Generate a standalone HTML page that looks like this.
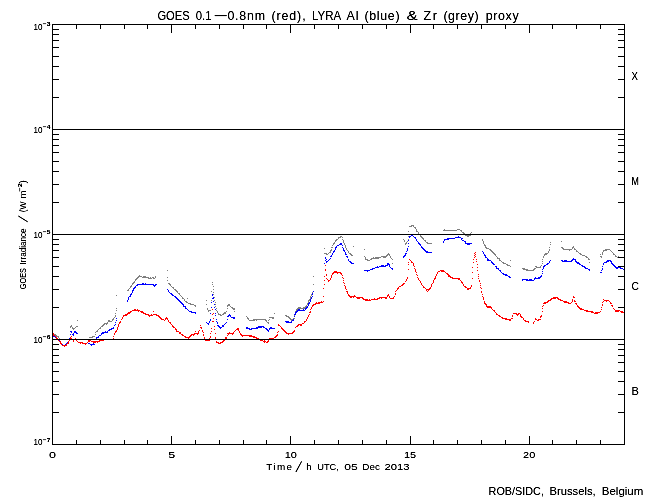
<!DOCTYPE html>
<html><head><meta charset="utf-8"><title>GOES / LYRA proxy</title>
<style>html,body{margin:0;padding:0;background:#fff;width:650px;height:500px;overflow:hidden}svg{display:block}text{font-family:"Liberation Sans",sans-serif}</style></head>
<body>
<svg width="650" height="500" viewBox="0 0 650 500">
<rect width="650" height="500" fill="#fff"/>
<g fill="none" stroke-width="1" shape-rendering="crispEdges">
<path stroke="#7f7f7f" d="M411 225.5h3M409 226.5h3M413 226.5h1M414 227.5h2M415 228.5h1M416 229.5h1M444 229.5h1M457 229.5h3M416 230.5h1M443 230.5h14M460 230.5h2M408 231.5h1M416 231.5h2M461 231.5h1M418 232.5h1M462 232.5h2M471 232.5h1M418 233.5h1M463 233.5h2M470 233.5h1M419 234.5h1M464 234.5h3M470 234.5h1M420 235.5h1M465 235.5h6M340 236.5h2M408 236.5h1M420 236.5h2M467 236.5h2M338 237.5h3M342 237.5h1M421 237.5h2M338 238.5h1M422 238.5h2M336 239.5h2M342 239.5h1M403 239.5h1M408 239.5h1M423 239.5h1M482 239.5h1M335 240.5h2M343 240.5h1M404 240.5h1M424 240.5h2M482 240.5h1M335 241.5h1M343 241.5h1M404 241.5h1M407 241.5h1M425 241.5h1M483 241.5h1M561 241.5h1M334 242.5h1M343 242.5h1M406 242.5h1M426 242.5h2M483 242.5h1M550 242.5h1M333 243.5h2M344 243.5h1M405 243.5h2M427 243.5h5M483 243.5h1M333 244.5h1M344 244.5h1M405 244.5h1M484 244.5h1M550 244.5h1M332 245.5h1M345 245.5h1M484 245.5h2M345 246.5h1M353 246.5h1M485 246.5h1M573 246.5h1M331 247.5h2M345 247.5h1M485 247.5h2M549 247.5h1M561 247.5h2M572 247.5h2M324 248.5h1M346 248.5h1M486 248.5h3M562 248.5h2M572 248.5h1M574 248.5h1M331 249.5h1M346 249.5h1M364 249.5h1M489 249.5h2M549 249.5h1M563 249.5h9M574 249.5h2M605 249.5h5M330 250.5h2M347 250.5h1M490 250.5h2M549 250.5h1M569 250.5h1M576 250.5h1M603 250.5h4M610 250.5h1M330 251.5h1M348 251.5h1M491 251.5h2M548 251.5h1M576 251.5h2M603 251.5h1M611 251.5h1M329 252.5h2M348 252.5h1M492 252.5h2M548 252.5h1M578 252.5h1M602 252.5h1M612 252.5h1M324 253.5h3M328 253.5h1M349 253.5h2M388 253.5h1M493 253.5h2M545 253.5h3M579 253.5h2M602 253.5h1M613 253.5h1M326 254.5h2M350 254.5h2M387 254.5h3M494 254.5h2M544 254.5h3M580 254.5h2M600 254.5h1M602 254.5h1M613 254.5h2M351 255.5h2M386 255.5h2M389 255.5h1M495 255.5h1M544 255.5h1M582 255.5h3M615 255.5h1M364 256.5h1M381 256.5h6M390 256.5h1M496 256.5h1M543 256.5h1M585 256.5h2M600 256.5h2M615 256.5h2M618 256.5h1M365 257.5h1M373 257.5h1M375 257.5h6M383 257.5h3M390 257.5h1M497 257.5h1M543 257.5h1M586 257.5h2M601 257.5h1M617 257.5h8M365 258.5h1M371 258.5h8M391 258.5h1M497 258.5h3M588 258.5h1M365 259.5h3M370 259.5h2M392 259.5h1M499 259.5h1M542 259.5h1M588 259.5h2M367 260.5h3M499 260.5h2M510 260.5h1M501 261.5h1M542 261.5h1M502 262.5h2M589 262.5h1M392 263.5h1M503 263.5h3M542 263.5h1M506 264.5h2M507 265.5h3M541 265.5h1M510 266.5h1M535 266.5h2M540 266.5h1M536 267.5h5M522 268.5h3M534 268.5h2M523 269.5h5M533 269.5h2M167 270.5h1M526 270.5h8M139 275.5h1M138 276.5h4M143 276.5h3M155 276.5h1M313 276.5h1M137 277.5h2M142 277.5h7M150 277.5h1M152 277.5h2M155 277.5h1M167 277.5h1M136 278.5h2M148 278.5h4M153 278.5h2M135 279.5h2M135 280.5h1M167 280.5h1M134 281.5h1M133 282.5h2M212 282.5h1M132 283.5h2M168 283.5h2M132 284.5h1M169 284.5h2M212 284.5h1M313 284.5h1M131 285.5h1M170 285.5h1M130 286.5h2M171 286.5h1M213 286.5h1M130 287.5h1M172 287.5h2M129 288.5h1M173 288.5h1M128 289.5h1M174 289.5h2M213 289.5h1M127 290.5h2M175 290.5h2M176 291.5h2M211 291.5h1M313 291.5h1M177 292.5h1M213 292.5h1M312 292.5h1M178 293.5h2M312 293.5h1M179 294.5h1M213 294.5h1M311 294.5h2M116 295.5h1M180 295.5h1M311 295.5h1M181 296.5h1M310 296.5h1M182 297.5h1M214 297.5h1M310 297.5h1M182 298.5h2M187 298.5h1M310 298.5h1M184 299.5h1M309 299.5h1M184 300.5h1M206 300.5h1M211 300.5h1M214 300.5h1M308 300.5h2M185 301.5h2M308 301.5h1M186 302.5h2M215 302.5h1M308 302.5h1M188 303.5h3M307 303.5h1M190 304.5h4M206 304.5h1M215 304.5h1M228 304.5h2M307 304.5h1M194 305.5h2M227 305.5h3M306 305.5h1M195 306.5h1M215 306.5h1M227 306.5h1M230 306.5h1M305 306.5h2M231 307.5h2M298 307.5h3M303 307.5h3M116 308.5h1M207 308.5h1M216 308.5h1M227 308.5h1M232 308.5h3M297 308.5h8M207 309.5h1M233 309.5h2M296 309.5h2M116 310.5h1M208 310.5h3M216 310.5h1M296 310.5h1M208 311.5h1M217 311.5h1M226 311.5h1M234 311.5h1M295 311.5h2M217 312.5h1M224 312.5h2M295 312.5h1M115 313.5h1M218 313.5h1M223 313.5h3M274 313.5h1M218 314.5h3M222 314.5h2M115 315.5h1M220 315.5h2M285 315.5h2M294 315.5h1M115 316.5h1M246 316.5h1M286 316.5h3M114 317.5h1M247 317.5h1M269 317.5h5M288 317.5h2M113 318.5h1M247 318.5h2M272 318.5h2M289 318.5h2M293 318.5h2M112 319.5h2M248 319.5h1M253 319.5h13M269 319.5h1M290 319.5h4M77 320.5h1M108 320.5h2M112 320.5h1M249 320.5h6M256 320.5h1M265 320.5h2M268 320.5h1M291 320.5h1M108 321.5h4M266 321.5h1M107 322.5h1M267 322.5h2M104 323.5h4M268 323.5h1M103 324.5h2M106 324.5h1M71 325.5h1M102 325.5h2M70 326.5h2M76 326.5h2M101 326.5h2M70 327.5h1M72 327.5h1M75 327.5h1M100 327.5h1M72 328.5h3M99 328.5h2M73 329.5h1M98 329.5h1M97 330.5h1M96 331.5h2M95 332.5h1M52 333.5h2M53 334.5h3M95 334.5h1M55 335.5h2M56 336.5h3M92 336.5h3M58 337.5h1M89 337.5h4M59 338.5h1"/>
<path stroke="#0000ff" d="M411 235.5h2M409 236.5h2M413 236.5h1M458 236.5h1M409 237.5h1M414 237.5h2M455 237.5h6M415 238.5h1M447 238.5h8M461 238.5h2M416 239.5h1M444 239.5h5M461 239.5h1M408 240.5h1M416 240.5h1M444 240.5h1M462 240.5h2M417 241.5h1M443 241.5h1M464 241.5h2M418 242.5h1M443 242.5h1M465 242.5h1M340 243.5h2M408 243.5h1M418 243.5h2M465 243.5h7M339 244.5h3M419 244.5h2M467 244.5h3M337 245.5h2M342 245.5h1M420 245.5h1M336 246.5h1M408 246.5h1M421 246.5h1M335 247.5h2M342 247.5h1M421 247.5h2M335 248.5h1M343 248.5h1M407 248.5h1M422 248.5h2M335 249.5h1M343 249.5h1M407 249.5h1M423 249.5h2M334 250.5h1M343 250.5h2M407 250.5h1M424 250.5h2M333 251.5h2M344 251.5h1M406 251.5h1M425 251.5h3M482 251.5h1M333 252.5h1M345 252.5h1M426 252.5h6M483 252.5h1M332 253.5h1M345 253.5h1M405 253.5h2M483 253.5h1M332 254.5h1M345 254.5h2M405 254.5h1M484 254.5h1M331 255.5h1M404 255.5h2M484 255.5h2M330 256.5h2M346 256.5h2M403 256.5h2M485 256.5h1M325 257.5h1M347 257.5h1M403 257.5h1M485 257.5h2M325 258.5h1M330 258.5h1M487 258.5h1M573 258.5h1M326 259.5h1M329 259.5h1M348 259.5h1M487 259.5h2M572 259.5h4M325 260.5h1M328 260.5h1M348 260.5h1M487 260.5h4M550 260.5h1M561 260.5h2M564 260.5h3M571 260.5h2M575 260.5h1M607 260.5h4M326 261.5h2M349 261.5h2M491 261.5h1M549 261.5h1M562 261.5h10M575 261.5h2M606 261.5h3M610 261.5h2M326 262.5h1M350 262.5h2M491 262.5h2M549 262.5h1M576 262.5h3M604 262.5h3M611 262.5h1M324 263.5h1M351 263.5h3M387 263.5h2M492 263.5h2M547 263.5h2M577 263.5h3M603 263.5h1M611 263.5h2M387 264.5h3M493 264.5h2M546 264.5h2M579 264.5h2M603 264.5h1M612 264.5h2M381 265.5h3M385 265.5h3M389 265.5h1M544 265.5h2M581 265.5h2M613 265.5h2M377 266.5h1M379 266.5h7M389 266.5h1M495 266.5h2M543 266.5h2M582 266.5h3M602 266.5h1M614 266.5h2M375 267.5h4M390 267.5h1M496 267.5h1M543 267.5h1M584 267.5h2M615 267.5h6M372 268.5h3M391 268.5h2M496 268.5h3M543 268.5h1M585 268.5h3M602 268.5h1M616 268.5h2M620 268.5h3M370 269.5h3M392 269.5h1M498 269.5h1M542 269.5h1M588 269.5h2M602 269.5h1M623 269.5h2M364 270.5h6M499 270.5h2M589 270.5h1M601 270.5h1M367 271.5h1M500 271.5h1M542 271.5h1M501 272.5h1M600 272.5h2M502 273.5h2M542 273.5h1M503 274.5h4M505 275.5h3M541 275.5h1M508 276.5h2M540 276.5h2M509 277.5h2M535 277.5h1M538 277.5h3M534 278.5h6M522 279.5h6M529 279.5h3M534 279.5h1M522 280.5h1M526 280.5h8M142 283.5h2M145 283.5h1M137 284.5h17M155 284.5h2M136 285.5h2M153 285.5h3M135 286.5h1M154 286.5h1M134 287.5h2M133 288.5h2M133 289.5h1M167 289.5h1M132 290.5h2M168 290.5h1M132 291.5h1M168 291.5h1M313 291.5h1M132 292.5h1M169 292.5h1M131 293.5h1M170 293.5h2M312 293.5h1M130 294.5h2M171 294.5h2M212 294.5h1M312 294.5h1M130 295.5h1M172 295.5h2M212 295.5h1M129 296.5h2M174 296.5h2M312 296.5h1M128 297.5h1M175 297.5h2M213 297.5h1M311 297.5h1M128 298.5h1M176 298.5h2M212 298.5h2M311 298.5h1M128 299.5h1M177 299.5h2M310 299.5h1M127 300.5h1M178 300.5h2M310 300.5h1M127 301.5h1M179 301.5h2M213 301.5h1M310 301.5h1M180 302.5h2M211 302.5h1M309 302.5h1M181 303.5h2M308 303.5h2M182 304.5h2M214 304.5h1M308 304.5h1M183 305.5h1M308 305.5h1M183 306.5h3M307 306.5h1M185 307.5h1M211 307.5h1M214 307.5h1M306 307.5h2M185 308.5h2M305 308.5h2M187 309.5h1M215 309.5h1M298 309.5h2M303 309.5h1M305 309.5h1M188 310.5h1M297 310.5h8M189 311.5h3M296 311.5h2M191 312.5h5M295 312.5h2M195 313.5h1M210 313.5h1M215 313.5h1M295 313.5h1M229 314.5h1M294 314.5h2M215 315.5h1M228 315.5h3M227 316.5h2M230 316.5h1M294 316.5h1M231 317.5h4M116 318.5h1M233 318.5h2M210 319.5h1M216 319.5h1M227 319.5h1M293 319.5h1M116 320.5h1M210 320.5h1M292 320.5h2M209 321.5h1M216 321.5h1M285 321.5h4M291 321.5h1M115 322.5h1M206 322.5h1M209 322.5h1M217 322.5h1M226 322.5h1M286 322.5h6M207 323.5h2M217 323.5h1M225 323.5h1M115 324.5h1M208 324.5h1M224 324.5h1M114 325.5h1M217 325.5h2M222 325.5h2M218 326.5h2M222 326.5h2M258 326.5h6M113 327.5h1M219 327.5h3M246 327.5h2M256 327.5h6M263 327.5h2M270 327.5h2M111 328.5h3M220 328.5h1M246 328.5h4M251 328.5h7M265 328.5h2M269 328.5h6M109 329.5h3M249 329.5h3M266 329.5h2M269 329.5h1M108 330.5h2M267 330.5h2M70 331.5h2M74 331.5h2M105 331.5h1M107 331.5h1M268 331.5h1M71 332.5h1M74 332.5h3M102 332.5h6M73 333.5h1M76 333.5h2M101 333.5h3M52 334.5h1M70 334.5h1M72 334.5h2M101 334.5h1M52 335.5h2M73 335.5h1M99 335.5h2M53 336.5h3M98 336.5h1M55 337.5h2M96 337.5h3M56 338.5h2M69 338.5h2M96 338.5h1M57 339.5h2M95 339.5h1M58 340.5h2M69 340.5h1M59 341.5h2M68 341.5h1M95 341.5h1M60 342.5h1M67 342.5h2M95 342.5h1M61 343.5h1M66 343.5h2M88 343.5h2M93 343.5h1M61 344.5h2M65 344.5h2M90 344.5h5M63 345.5h3M91 345.5h1"/>
<path stroke="#ff0000" d="M475 252.5h1M474 253.5h1M475 254.5h1M474 255.5h1M475 256.5h1M474 257.5h1M409 259.5h1M473 259.5h1M476 259.5h1M410 260.5h1M411 261.5h1M476 261.5h1M408 262.5h1M411 262.5h2M473 262.5h1M413 263.5h1M408 264.5h1M413 264.5h1M477 264.5h1M325 265.5h1M413 265.5h1M414 266.5h1M472 267.5h1M477 267.5h1M414 268.5h1M325 269.5h1M408 269.5h1M415 269.5h1M325 270.5h1M415 270.5h1M440 270.5h4M477 270.5h1M334 271.5h3M415 271.5h1M438 271.5h2M441 271.5h4M333 272.5h8M416 272.5h1M437 272.5h1M445 272.5h1M472 272.5h1M332 273.5h2M337 273.5h1M340 273.5h2M437 273.5h1M446 273.5h2M326 274.5h1M332 274.5h1M341 274.5h1M416 274.5h1M436 274.5h1M447 274.5h2M478 274.5h1M326 275.5h1M331 275.5h1M342 275.5h1M417 275.5h1M436 275.5h1M448 275.5h2M324 276.5h1M331 276.5h1M435 276.5h1M448 276.5h3M478 276.5h1M331 277.5h1M342 277.5h1M407 277.5h1M417 277.5h1M435 277.5h1M450 277.5h3M326 278.5h1M330 278.5h1M343 278.5h1M407 278.5h1M418 278.5h1M434 278.5h2M452 278.5h8M472 278.5h1M478 278.5h1M327 279.5h1M330 279.5h1M406 279.5h1M418 279.5h1M434 279.5h1M458 279.5h2M324 280.5h1M328 280.5h2M343 280.5h1M406 280.5h1M419 280.5h1M433 280.5h1M460 280.5h1M479 280.5h1M328 281.5h1M405 281.5h1M420 281.5h1M433 281.5h1M461 281.5h1M479 281.5h1M343 282.5h1M420 282.5h1M433 282.5h1M461 282.5h2M344 283.5h1M403 283.5h2M421 283.5h1M432 283.5h1M462 283.5h1M480 283.5h1M324 284.5h1M402 284.5h2M421 284.5h1M431 284.5h1M463 284.5h1M344 285.5h1M401 285.5h2M422 285.5h1M431 285.5h1M463 285.5h1M471 285.5h1M480 285.5h1M345 286.5h1M399 286.5h2M423 286.5h1M431 286.5h1M464 286.5h2M471 286.5h1M345 287.5h1M398 287.5h1M423 287.5h2M430 287.5h1M465 287.5h2M470 287.5h1M480 287.5h1M323 288.5h1M345 288.5h1M397 288.5h2M425 288.5h1M429 288.5h2M467 288.5h4M481 288.5h1M346 289.5h1M397 289.5h1M426 289.5h4M467 289.5h2M396 290.5h1M426 290.5h1M428 290.5h1M346 291.5h2M395 291.5h1M427 291.5h1M481 291.5h1M347 292.5h1M481 292.5h1M347 293.5h1M395 293.5h1M348 294.5h1M388 294.5h1M395 294.5h1M482 294.5h1M348 295.5h2M354 295.5h1M387 295.5h2M323 296.5h1M349 296.5h7M387 296.5h1M389 296.5h1M394 296.5h1M482 296.5h1M573 296.5h1M350 297.5h2M353 297.5h1M356 297.5h7M379 297.5h8M389 297.5h1M393 297.5h1M483 297.5h1M553 297.5h5M573 297.5h2M357 298.5h3M362 298.5h2M374 298.5h1M377 298.5h3M381 298.5h1M385 298.5h2M390 298.5h4M483 298.5h1M551 298.5h5M557 298.5h2M363 299.5h5M369 299.5h1M371 299.5h7M483 299.5h1M550 299.5h2M558 299.5h3M572 299.5h1M603 299.5h1M365 300.5h6M548 300.5h3M560 300.5h3M572 300.5h1M574 300.5h1M604 300.5h5M321 301.5h1M323 301.5h1M484 301.5h1M547 301.5h2M563 301.5h4M572 301.5h1M574 301.5h2M603 301.5h1M606 301.5h1M609 301.5h1M316 302.5h1M318 302.5h5M484 302.5h1M544 302.5h4M564 302.5h5M571 302.5h1M602 302.5h1M610 302.5h1M315 303.5h5M484 303.5h2M543 303.5h3M568 303.5h3M575 303.5h2M610 303.5h2M313 304.5h3M485 304.5h2M576 304.5h1M602 304.5h1M312 305.5h2M486 305.5h1M543 305.5h1M577 305.5h1M602 305.5h1M611 305.5h2M312 306.5h1M486 306.5h5M542 306.5h1M577 306.5h2M612 306.5h1M311 307.5h1M487 307.5h5M578 307.5h2M601 307.5h1M311 308.5h1M491 308.5h1M542 308.5h1M579 308.5h3M613 308.5h1M134 309.5h2M137 309.5h1M212 309.5h1M310 309.5h1M492 309.5h1M580 309.5h4M601 309.5h1M614 309.5h1M132 310.5h8M493 310.5h2M584 310.5h4M615 310.5h5M130 311.5h2M138 311.5h1M140 311.5h3M153 311.5h1M310 311.5h1M494 311.5h1M542 311.5h1M586 311.5h7M600 311.5h1M615 311.5h4M620 311.5h3M128 312.5h3M141 312.5h3M309 312.5h2M495 312.5h1M591 312.5h3M595 312.5h5M621 312.5h4M127 313.5h3M143 313.5h3M213 313.5h1M496 313.5h1M513 313.5h4M518 313.5h2M594 313.5h4M125 314.5h3M145 314.5h4M151 314.5h1M153 314.5h4M212 314.5h1M309 314.5h1M496 314.5h2M516 314.5h3M520 314.5h1M123 315.5h4M148 315.5h5M156 315.5h3M308 315.5h1M498 315.5h2M512 315.5h1M517 315.5h1M520 315.5h1M541 315.5h1M123 316.5h1M149 316.5h1M158 316.5h2M308 316.5h1M499 316.5h2M512 316.5h1M520 316.5h2M540 316.5h2M122 317.5h1M159 317.5h2M166 317.5h1M307 317.5h1M501 317.5h2M521 317.5h2M540 317.5h1M122 318.5h1M160 318.5h2M165 318.5h3M213 318.5h1M307 318.5h1M502 318.5h5M511 318.5h2M523 318.5h1M535 318.5h1M121 319.5h1M161 319.5h3M165 319.5h1M167 319.5h1M306 319.5h1M505 319.5h6M523 319.5h1M535 319.5h2M538 319.5h3M164 320.5h1M168 320.5h1M306 320.5h1M509 320.5h2M524 320.5h2M537 320.5h2M120 321.5h1M168 321.5h1M212 321.5h2M304 321.5h2M525 321.5h4M534 321.5h1M119 322.5h2M169 322.5h2M304 322.5h1M528 322.5h1M533 322.5h1M119 323.5h1M170 323.5h1M302 323.5h2M533 323.5h1M118 324.5h1M171 324.5h1M278 324.5h1M298 324.5h4M118 325.5h1M172 325.5h1M200 325.5h1M278 325.5h2M297 325.5h2M300 325.5h2M118 326.5h1M172 326.5h2M214 326.5h1M280 326.5h1M296 326.5h2M117 327.5h1M173 327.5h2M200 327.5h2M281 327.5h1M295 327.5h1M117 328.5h1M175 328.5h1M201 328.5h1M211 328.5h1M237 328.5h2M281 328.5h2M117 329.5h1M175 329.5h2M214 329.5h1M236 329.5h3M282 329.5h2M116 330.5h1M176 330.5h1M199 330.5h1M202 330.5h1M235 330.5h1M238 330.5h1M283 330.5h2M294 330.5h1M115 331.5h2M176 331.5h3M195 331.5h1M198 331.5h1M202 331.5h1M211 331.5h1M234 331.5h1M239 331.5h1M278 331.5h1M284 331.5h2M293 331.5h2M115 332.5h1M179 332.5h2M198 332.5h1M203 332.5h1M229 332.5h1M233 332.5h1M239 332.5h1M277 332.5h1M285 332.5h2M292 332.5h2M52 333.5h2M114 333.5h1M179 333.5h2M194 333.5h5M210 333.5h1M215 333.5h1M227 333.5h7M240 333.5h1M286 333.5h7M53 334.5h1M114 334.5h1M181 334.5h2M191 334.5h4M197 334.5h1M203 334.5h1M228 334.5h1M232 334.5h1M240 334.5h2M277 334.5h1M288 334.5h1M53 335.5h2M182 335.5h2M190 335.5h2M193 335.5h1M203 335.5h1M227 335.5h1M241 335.5h11M276 335.5h2M55 336.5h1M71 336.5h1M113 336.5h1M184 336.5h2M189 336.5h2M210 336.5h1M242 336.5h1M249 336.5h6M275 336.5h2M56 337.5h1M70 337.5h1M185 337.5h5M204 337.5h1M210 337.5h1M215 337.5h1M225 337.5h2M253 337.5h4M274 337.5h2M56 338.5h2M70 338.5h2M75 338.5h1M113 338.5h1M188 338.5h1M204 338.5h1M209 338.5h1M215 338.5h1M225 338.5h2M256 338.5h3M269 338.5h5M57 339.5h2M69 339.5h1M72 339.5h1M74 339.5h2M102 339.5h11M207 339.5h2M216 339.5h1M224 339.5h2M259 339.5h2M269 339.5h1M58 340.5h1M69 340.5h1M73 340.5h1M76 340.5h1M88 340.5h3M99 340.5h5M205 340.5h5M223 340.5h2M260 340.5h3M264 340.5h1M268 340.5h1M59 341.5h2M68 341.5h1M73 341.5h1M77 341.5h1M88 341.5h2M91 341.5h9M216 341.5h1M222 341.5h2M263 341.5h3M267 341.5h2M60 342.5h1M68 342.5h1M78 342.5h5M87 342.5h1M93 342.5h3M97 342.5h1M216 342.5h3M220 342.5h3M264 342.5h1M266 342.5h2M60 343.5h2M67 343.5h2M80 343.5h1M82 343.5h5M218 343.5h3M61 344.5h1M66 344.5h1M85 344.5h1M62 345.5h5M64 346.5h1"/>
<path stroke="#000" d="M52.5 24.5H624.5V444.5H52.5ZM52 129.5H625M52 234.5H625M52 339.5H625M52.5 24v9M52.5 445v-9M76.5 24v5M76.5 445v-5M100.5 24v5M100.5 445v-5M124.5 24v5M124.5 445v-5M147.5 24v5M147.5 445v-5M171.5 24v9M171.5 445v-9M195.5 24v5M195.5 445v-5M219.5 24v5M219.5 445v-5M243.5 24v5M243.5 445v-5M266.5 24v5M266.5 445v-5M290.5 24v9M290.5 445v-9M314.5 24v5M314.5 445v-5M338.5 24v5M338.5 445v-5M362.5 24v5M362.5 445v-5M386.5 24v5M386.5 445v-5M410.5 24v9M410.5 445v-9M433.5 24v5M433.5 445v-5M457.5 24v5M457.5 445v-5M481.5 24v5M481.5 445v-5M505.5 24v5M505.5 445v-5M529.5 24v9M529.5 445v-9M552.5 24v5M552.5 445v-5M576.5 24v5M576.5 445v-5M600.5 24v5M600.5 445v-5M624.5 24v5M624.5 445v-5M52 97.5h7M625 97.5h-7M52 79.5h7M625 79.5h-7M52 66.5h7M625 66.5h-7M52 56.5h7M625 56.5h-7M52 47.5h7M625 47.5h-7M52 40.5h7M625 40.5h-7M52 34.5h7M625 34.5h-7M52 29.5h7M625 29.5h-7M52 202.5h7M625 202.5h-7M52 184.5h7M625 184.5h-7M52 171.5h7M625 171.5h-7M52 161.5h7M625 161.5h-7M52 152.5h7M625 152.5h-7M52 145.5h7M625 145.5h-7M52 139.5h7M625 139.5h-7M52 134.5h7M625 134.5h-7M52 307.5h7M625 307.5h-7M52 289.5h7M625 289.5h-7M52 276.5h7M625 276.5h-7M52 266.5h7M625 266.5h-7M52 257.5h7M625 257.5h-7M52 250.5h7M625 250.5h-7M52 244.5h7M625 244.5h-7M52 239.5h7M625 239.5h-7M52 412.5h7M625 412.5h-7M52 394.5h7M625 394.5h-7M52 381.5h7M625 381.5h-7M52 371.5h7M625 371.5h-7M52 362.5h7M625 362.5h-7M52 355.5h7M625 355.5h-7M52 349.5h7M625 349.5h-7M52 344.5h7M625 344.5h-7"/>
</g>
<defs><filter id="tx" x="0" y="0" width="650" height="500" filterUnits="userSpaceOnUse" color-interpolation-filters="sRGB"><feComponentTransfer><feFuncA type="linear" slope="1.5" intercept="-0.08"/></feComponentTransfer></filter></defs>
<g font-family="Liberation Sans, sans-serif" fill="#000" filter="url(#tx)">
<text x="157.4" y="19.6" font-size="12.4" textLength="32.2" lengthAdjust="spacingAndGlyphs">GOES</text>
<text x="195.8" y="19.6" font-size="12.4" textLength="15.8" lengthAdjust="spacingAndGlyphs">0.1</text>
<text x="213.0" y="19.6" font-size="12.4" textLength="14.6" lengthAdjust="spacingAndGlyphs">−</text>
<text x="227.4" y="19.6" font-size="12.4" textLength="37.6" lengthAdjust="spacing">0.8nm</text>
<text x="271.4" y="19.6" font-size="12.4" textLength="34.2" lengthAdjust="spacing">(red),</text>
<text x="312.0" y="19.6" font-size="12.4" textLength="29.2" lengthAdjust="spacingAndGlyphs">LYRA</text>
<text x="346.4" y="19.6" font-size="12.4" textLength="12.2" lengthAdjust="spacing">Al</text>
<text x="364.4" y="19.6" font-size="12.4" textLength="35.2" lengthAdjust="spacing">(blue)</text>
<text x="406.4" y="19.6" font-size="12.4" textLength="11.2" lengthAdjust="spacingAndGlyphs">&amp;</text>
<text x="423.4" y="19.6" font-size="12.4" textLength="13.6" lengthAdjust="spacing">Zr</text>
<text x="443.4" y="19.6" font-size="12.4" textLength="35.2" lengthAdjust="spacing">(grey)</text>
<text x="485.8" y="19.6" font-size="12.4" textLength="32.8" lengthAdjust="spacing">proxy</text>
<text x="49.0" y="458" font-size="9.8" textLength="7.0" lengthAdjust="spacingAndGlyphs">0</text>
<text x="168.2" y="458" font-size="9.8" textLength="7.0" lengthAdjust="spacingAndGlyphs">5</text>
<text x="284.7" y="458" font-size="9.8" textLength="12.2" lengthAdjust="spacingAndGlyphs">10</text>
<text x="403.9" y="458" font-size="9.8" textLength="12.2" lengthAdjust="spacingAndGlyphs">15</text>
<text x="523.1" y="458" font-size="9.8" textLength="12.2" lengthAdjust="spacingAndGlyphs">20</text>
<text x="266.3" y="470" font-size="9.9" textLength="25.8" lengthAdjust="spacing">Time</text>
<text x="306.2" y="470" font-size="9.9" textLength="5.4" lengthAdjust="spacingAndGlyphs">h</text>
<text x="317.2" y="470" font-size="9.9" textLength="21.7" lengthAdjust="spacingAndGlyphs">UTC,</text>
<text x="344.3" y="470" font-size="9.9" textLength="13.5" lengthAdjust="spacingAndGlyphs">05</text>
<text x="362.3" y="470" font-size="9.9" textLength="17.7" lengthAdjust="spacing">Dec</text>
<text x="384.4" y="470" font-size="9.9" textLength="25.1" lengthAdjust="spacingAndGlyphs">2013</text>
<path d="M295.9 472L301.6 461.4" stroke="#000" stroke-width="1" fill="none"/>
<text x="488.6" y="495.3" font-size="11.8" textLength="55.3" lengthAdjust="spacingAndGlyphs">ROB/SIDC,</text>
<text x="549.5" y="495.3" font-size="11.8" textLength="46.2" lengthAdjust="spacingAndGlyphs">Brussels,</text>
<text x="601.8" y="495.3" font-size="11.8" textLength="41.5" lengthAdjust="spacingAndGlyphs">Belgium</text>
<text x="33.6" y="29.9" font-size="8.4" textLength="9.0" lengthAdjust="spacingAndGlyphs">10</text>
<text x="42.8" y="26.2" font-size="6" font-weight="bold" textLength="7.6" lengthAdjust="spacingAndGlyphs">−3</text>
<text x="33.6" y="133.0" font-size="8.4" textLength="9.0" lengthAdjust="spacingAndGlyphs">10</text>
<text x="42.8" y="129.3" font-size="6" font-weight="bold" textLength="7.6" lengthAdjust="spacingAndGlyphs">−4</text>
<text x="33.6" y="237.8" font-size="8.4" textLength="9.0" lengthAdjust="spacingAndGlyphs">10</text>
<text x="42.8" y="234.1" font-size="6" font-weight="bold" textLength="7.6" lengthAdjust="spacingAndGlyphs">−5</text>
<text x="33.6" y="342.8" font-size="8.4" textLength="9.0" lengthAdjust="spacingAndGlyphs">10</text>
<text x="42.8" y="339.1" font-size="6" font-weight="bold" textLength="7.6" lengthAdjust="spacingAndGlyphs">−6</text>
<text x="33.6" y="445.2" font-size="8.4" textLength="9.0" lengthAdjust="spacingAndGlyphs">10</text>
<text x="42.8" y="441.5" font-size="6" font-weight="bold" textLength="7.6" lengthAdjust="spacingAndGlyphs">−7</text>
<text x="631.4" y="80.0" font-size="10.4" textLength="6.4" lengthAdjust="spacingAndGlyphs">X</text>
<text x="631.4" y="185.0" font-size="10.4" textLength="7.4" lengthAdjust="spacingAndGlyphs">M</text>
<text x="631.4" y="290.0" font-size="10.4" textLength="7.4" lengthAdjust="spacingAndGlyphs">C</text>
<text x="631.4" y="395.0" font-size="10.4" textLength="7.4" lengthAdjust="spacingAndGlyphs">B</text>
<g transform="translate(26.1,288.6) rotate(-90)">
<text x="-0.6" y="0" font-size="9.4" textLength="21.2" lengthAdjust="spacingAndGlyphs">GOES</text>
<text x="24.2" y="0" font-size="9.4" textLength="36.0" lengthAdjust="spacingAndGlyphs">Irradiance</text>
<text x="76.4" y="0" font-size="9.4" textLength="10.8" lengthAdjust="spacingAndGlyphs">(W</text>
<text x="90.2" y="0" font-size="9.4" textLength="8.0" lengthAdjust="spacingAndGlyphs">m</text>
<path d="M66.8 1.6L72.6 -7.8" stroke="#000" stroke-width="1" fill="none"/>
<text x="97.2" y="-4.0" font-size="6" font-weight="bold" textLength="8.2" lengthAdjust="spacingAndGlyphs">−2</text>
<text x="105.0" y="0" font-size="9.4" textLength="3.4" lengthAdjust="spacingAndGlyphs">)</text>
</g>
</g>
</svg>
</body></html>
